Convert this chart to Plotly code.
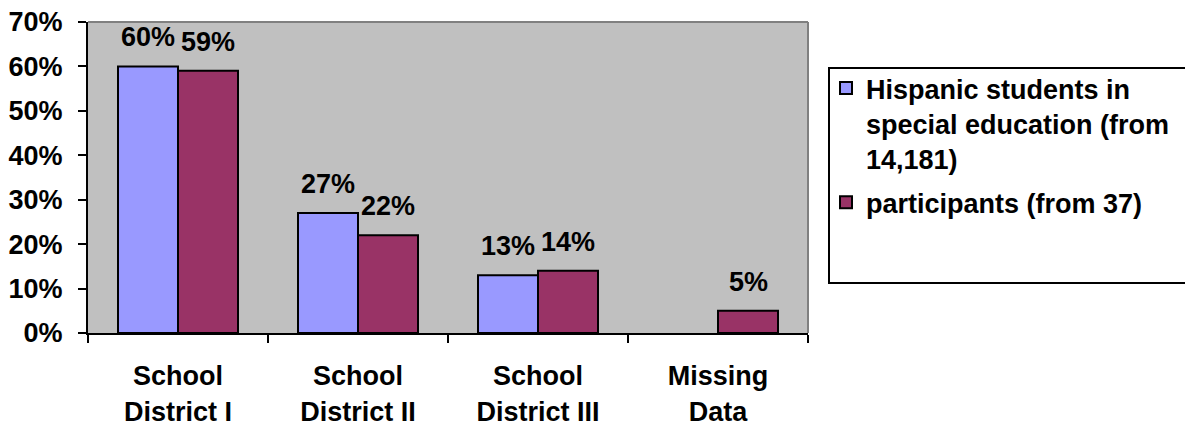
import plotly.graph_objects as go

categories = ["School<br>District I", "School<br>District II", "School<br>District III", "Missing<br>Data"]
hispanic_sped = [0.60, 0.27, 0.13, None]
participants = [0.59, 0.22, 0.14, 0.05]
series_names = ["Hispanic students in<br>special education (from<br>14,181)", "participants (from 37)"]
y_ticks = [0, 0.1, 0.2, 0.3, 0.4, 0.5, 0.6, 0.7]
y_tick_labels = ["0%", "10%", "20%", "30%", "40%", "50%", "60%", "70%"]

FONT = "Liberation Sans, Arial, sans-serif"
FS = 27

fig = go.Figure()
fig.add_trace(go.Bar(x=categories, y=hispanic_sped, name=series_names[0],
                     marker=dict(color="#9999FF", line=dict(color="black", width=2)),
                     legendgroup="a"))
fig.add_trace(go.Bar(x=categories, y=participants, name=series_names[1],
                     marker=dict(color="#993366", line=dict(color="black", width=2)),
                     legendgroup="b"))

# data labels
for vals, shift in ((hispanic_sped, -30), (participants, 30)):
    for c, v in zip(categories, vals):
        if v is None:
            continue
        fig.add_annotation(x=c, y=v, xref="x", yref="y", text=f"{round(v*100)}%",
                           showarrow=False, xshift=shift, yshift=12, yanchor="bottom",
                           font=dict(family=FONT, size=FS, color="black", weight="bold"))

# legend box
fig.add_shape(type="rect", xref="paper", yref="paper",
              x0=(829 - 88) / 720, x1=(1190 - 88) / 720,
              y0=(333 - 283) / 311, y1=(333 - 68) / 311,
              line=dict(color="black", width=2), fillcolor="rgba(0,0,0,0)")
# gray plot border top/right
fig.add_shape(type="line", xref="paper", yref="paper", x0=0, x1=1, y0=1, y1=1,
              line=dict(color="#808080", width=2))
fig.add_shape(type="line", xref="paper", yref="paper", x0=1, x1=1, y0=0, y1=1,
              line=dict(color="#808080", width=2))

fig.update_layout(
    width=1185, height=426,
    margin=dict(l=88, r=377, t=22, b=93, autoexpand=False),
    paper_bgcolor="white", plot_bgcolor="#C0C0C0",
    barmode="group", bargap=1/3, bargroupgap=0,
    font=dict(family=FONT, size=FS, color="black", weight="bold"),
    showlegend=True,
    legend=dict(x=(826 - 88) / 720, y=(333 - 64) / 311, xanchor="left", yanchor="top",
                bgcolor="rgba(0,0,0,0)", borderwidth=0, tracegroupgap=6, valign="top",
                font=dict(family=FONT, size=FS, color="black", weight="bold")),
    xaxis=dict(showline=True, linecolor="black", linewidth=2, ticks="outside",
               tickson="boundaries", ticklen=8, tickwidth=2, tickcolor="black",
               showgrid=False, ticklabelstandoff=18, automargin=False,
               tickfont=dict(family=FONT, size=FS, color="black", weight="bold")),
    yaxis=dict(range=[0, 0.7], tickvals=y_ticks, ticktext=y_tick_labels,
               showline=True, linecolor="black", linewidth=2, ticks="outside",
               ticklen=8, tickwidth=2, tickcolor="black", showgrid=False,
               zeroline=False, ticklabelstandoff=10, automargin=False,
               tickfont=dict(family=FONT, size=FS, color="black", weight="bold")),
)

fig.write_html("out.html", config={"displayModeBar": False},
               post_script="document.body.style.margin='0';document.body.style.overflow='hidden';")
